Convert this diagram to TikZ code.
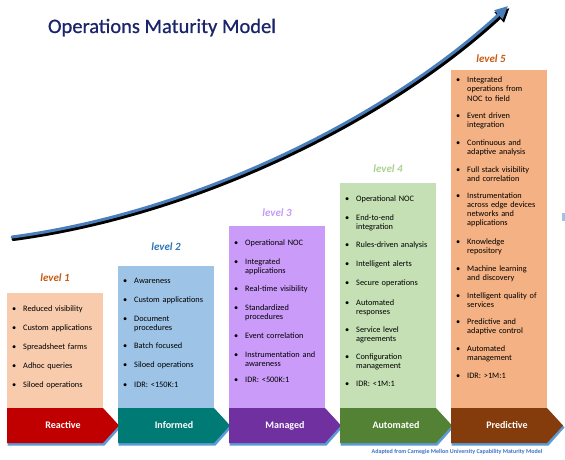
\documentclass[tikz,border=0pt]{standalone}
\usepackage{fontspec}
\setmainfont{Carlito}
\newfontfamily\titlefont[FakeBold=0.8]{Carlito}
\usetikzlibrary{arrows.meta}
\definecolor{navy}{HTML}{1B2569}
\definecolor{arrowblue}{HTML}{4A7EBB}
\definecolor{lab1}{HTML}{C55A11}
\definecolor{lab2}{HTML}{2E75B6}
\definecolor{lab3}{HTML}{C29BF7}
\definecolor{lab4}{HTML}{A9D18E}
\definecolor{lab5}{HTML}{C55A11}
\definecolor{fill1}{HTML}{F8CBAD}
\definecolor{fill2}{HTML}{9DC3E6}
\definecolor{fill3}{HTML}{CB9BFA}
\definecolor{fill4}{HTML}{C5E0B4}
\definecolor{fill5}{HTML}{F4B183}
\definecolor{chev1}{HTML}{C00000}
\definecolor{chev2}{HTML}{007A75}
\definecolor{chev3}{HTML}{7030A0}
\definecolor{chev4}{HTML}{548235}
\definecolor{chev5}{HTML}{843C0C}
\definecolor{chevshadow}{HTML}{5B9BD5}
\definecolor{notecol}{HTML}{3F6FC8}
\newcommand\bitem[1]{\noindent\makebox[11pt][l]{•}\parbox[t]{85pt}{\raggedright #1}\par}
\newcommand\listsetup{\setlength\parskip{10.2pt}}
\begin{document}
\begin{tikzpicture}[x=1pt,y=-1pt,
  titlestyle/.style={font=\titlefont\fontsize{20.5}{24}\selectfont, text=navy, inner sep=0pt, anchor=base},
  levelstyle/.style={font=\fontsize{11}{13}\selectfont\bfseries\itshape, inner sep=0pt},
  boxstyle/.style={anchor=north west, inner sep=0pt, minimum width=96pt},
  liststyle/.style={anchor=base west, inner sep=0pt, text width=92pt, font=\fontsize{8.3}{9}\selectfont, text=black},
  chevtext/.style={font=\fontsize{10}{12}\selectfont\bfseries, text=white, inner sep=0pt},
  notestyle/.style={font=\fontsize{6}{7}\selectfont\bfseries, text=notecol, inner sep=0pt}
]
\useasboundingbox (0,0) rectangle (565,460);

% title
\node[titlestyle] (title) at (162,33) {Operations Maturity Model};

% growth arrow (shadow then blue)
\draw[black, line width=4pt, line cap=round, -{Triangle[length=14pt,width=13pt]}]
  (13.5,239) .. controls (201.5,214) and (391.5,117) .. (509.5,8);
\draw[arrowblue, line width=3pt, line cap=round, -{Triangle[length=13pt,width=11.5pt]}]
  (12,237) .. controls (200,212) and (390,115) .. (508,6);

% level labels
\node[levelstyle, text=lab1] (l1) at (55,278) {level 1};
\node[levelstyle, text=lab2] (l2) at (166,247) {level 2};
\node[levelstyle, text=lab3] (l3) at (277,213) {level 3};
\node[levelstyle, text=lab4] (l4) at (388,169) {level 4};
\node[levelstyle, text=lab5] (l5) at (491,59) {level 5};

% boxes
\node[boxstyle, fill=fill1, minimum height=115pt] (b1) at (7,293) {};
\node[boxstyle, fill=fill2, minimum height=142pt] (b2) at (118,266) {};
\node[boxstyle, fill=fill3, minimum height=182pt] (b3) at (229,226) {};
\node[boxstyle, fill=fill4, minimum height=225pt] (b4) at (340,183) {};
\node[boxstyle, fill=fill5, minimum height=338pt] (b5) at (451,70) {};

% lists
\node[liststyle] (t1) at (12,311) {\listsetup
\bitem{Reduced visibility}
\bitem{Custom applications}
\bitem{Spreadsheet farms}
\bitem{Adhoc queries}
\bitem{Siloed operations}};
\node[liststyle] (t2) at (123,283) {\listsetup
\bitem{Awareness}
\bitem{Custom applications}
\bitem{Document\newline procedures}
\bitem{Batch focused}
\bitem{Siloed operations}
\bitem{IDR: <150K:1}};
\node[liststyle] (t3) at (234,245) {\listsetup
\bitem{Operational NOC}
\bitem{Integrated\newline applications}
\bitem{Real-time visibility}
\bitem{Standardized\newline procedures}
\bitem{Event correlation}
\bitem{Instrumentation and\newline awareness}
\bitem{IDR: <500K:1}};
\node[liststyle] (t4) at (345,201) {\listsetup
\bitem{Operational NOC}
\bitem{End-to-end\newline integration}
\bitem{Rules-driven analysis}
\bitem{Intelligent alerts}
\bitem{Secure operations}
\bitem{Automated\newline responses}
\bitem{Service level\newline agreements}
\bitem{Configuration\newline management}
\bitem{IDR: <1M:1}};
\node[liststyle] (t5) at (456,83) {\listsetup
\bitem{Integrated\newline operations from\newline NOC to field}
\bitem{Event driven\newline integration}
\bitem{Continuous and\newline adaptive analysis}
\bitem{Full stack visibility\newline and correlation}
\bitem{Instrumentation\newline across edge devices\newline networks and\newline applications}
\bitem{Knowledge\newline repository}
\bitem{Machine learning\newline and discovery}
\bitem{Intelligent quality of\newline services}
\bitem{Predictive and\newline adaptive control}
\bitem{Automated\newline management}
\bitem{IDR: >1M:1}};

% chevrons (shadow, body)
\foreach \xl/\col in {7/chev1, 118/chev2, 229/chev3, 340/chev4, 451/chev5}{
  \fill[chevshadow] (\xl+0.5,410) -- (\xl+97.5,410) -- (\xl+113.5,427.5) -- (\xl+97.5,445.5) -- (\xl+0.5,445.5) -- cycle;
  \fill[\col] (\xl,408) -- (\xl+96,408) -- (\xl+112,425.5) -- (\xl+96,443) -- (\xl,443) -- cycle;
}
\node[chevtext] (c1) at (63,425.5) {Reactive};
\node[chevtext] (c2) at (174,425.5) {Informed};
\node[chevtext] (c3) at (285,425.5) {Managed};
\node[chevtext] (c4) at (396,425.5) {Automated};
\node[chevtext] (c5) at (507,425.5) {Predictive};

% footnote
\node[notestyle] (note) at (457,452) {Adapted from Carnegie Mellon University Capability Maturity Model};

% small mark at right edge
\fill[fill2] (562,213) rectangle (564.5,221);
\end{tikzpicture}
\end{document}
